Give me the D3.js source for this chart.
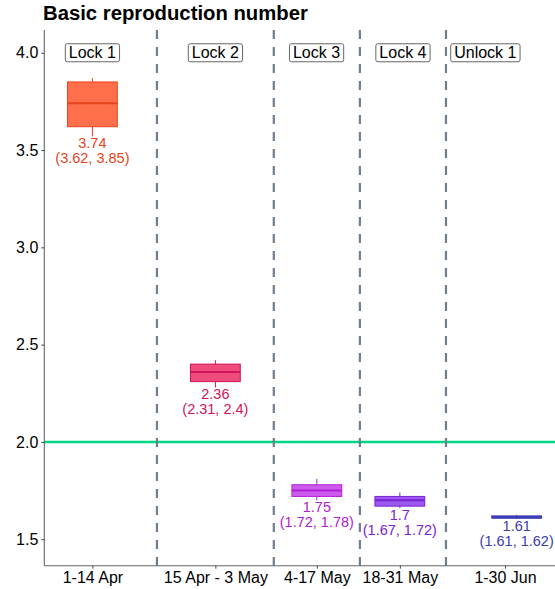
<!DOCTYPE html>
<html><head><meta charset="utf-8">
<script src="https://cdn.jsdelivr.net/npm/d3@7"></script>
<style>body{margin:0;background:#fff}svg{display:block}text{font-family:"Liberation Sans",Arial,sans-serif}</style>
</head><body>
<script>
// ---- data ----
const periods = ["1-14 Apr", "15 Apr - 3 May", "4-17 May", "18-31 May", "1-30 Jun"];
const periodTicks = [4, 24, 40.5, 54, 71.1];          // day positions of x ticks
const boxCenters = [4, 24, 40.5, 54, 73];             // day positions of boxes
const phases = ["Lock 1", "Lock 2", "Lock 3", "Lock 4", "Unlock 1"];
const phaseCenters = [4, 24, 40.45, 54.5, 67.9];
const phaseBreaks = [14.5, 33.5, 47.5, 61.5];
const medians = [3.74, 2.36, 1.75, 1.70, 1.61];
const lower = [3.62, 2.31, 1.72, 1.67, 1.61];
const upper = [3.85, 2.40, 1.78, 1.72, 1.62];
const whiskerLow = [3.57, 2.28, 1.70, 1.66, 1.605];
const whiskerHigh = [3.87, 2.42, 1.81, 1.74, 1.625];
const threshold = 2.0;
const yTicks = [1.5, 2.0, 2.5, 3.0, 3.5, 4.0];
const strokeColors = ["#E8431C", "#D0145A", "#B020D4", "#7A22D4", "#3C3CB4"];
const fillColors = ["#FF6F4B", "#EF4C7D", "#CD5BEE", "#9B58EE", "#4444BB"];

const W = 555, H = 589;
const svg = d3.select("body").append("svg").attr("width", W).attr("height", H);
const x = d3.scaleLinear().domain([-3.82, 79.23]).range([44.3, 555]);
const y = d3.scaleLinear().domain([1.364, 4.117]).range([565.7, 30]);
const fmt = v => String(+v.toFixed(2));

// title
svg.append("text").attr("x", 43).attr("y", 20).attr("font-size", 20.3).attr("font-weight", "bold")
  .attr("fill", "#000").text("Basic reproduction number");

// threshold line
svg.append("line").attr("x1", x.range()[0]).attr("x2", W).attr("y1", y(threshold)).attr("y2", y(threshold))
  .attr("stroke", "#00D782").attr("stroke-width", 2.5);

// dashed breaks
svg.selectAll("line.brk").data(phaseBreaks).join("line").attr("class", "brk")
  .attr("x1", d => x(d)).attr("x2", d => x(d)).attr("y1", y.range()[1]).attr("y2", y.range()[0])
  .attr("stroke", "#6E7E8E").attr("stroke-width", 2.2).attr("stroke-dasharray", "9,8");

// boxes
const bw = 8.1;
const g = svg.append("g");
medians.forEach((m, i) => {
  const cx = x(boxCenters[i]);
  const half = (x(bw) - x(0)) / 2;
  g.append("line").attr("x1", cx).attr("x2", cx).attr("y1", y(whiskerHigh[i])).attr("y2", y(whiskerLow[i]))
    .attr("stroke", strokeColors[i]).attr("stroke-width", 1);
  g.append("rect").attr("x", cx - half).attr("width", 2 * half)
    .attr("y", y(upper[i])).attr("height", Math.max(1, y(lower[i]) - y(upper[i])))
    .attr("fill", fillColors[i]).attr("stroke", strokeColors[i]).attr("stroke-width", 1);
  g.append("line").attr("x1", cx - half).attr("x2", cx + half).attr("y1", y(m)).attr("y2", y(m))
    .attr("stroke", strokeColors[i]).attr("stroke-width", 2);
  const b = y(whiskerLow[i]) + 12;
  const t = g.append("text").attr("x", cx).attr("y", b).attr("text-anchor", "middle").attr("font-size", 14.5)
    .attr("fill", strokeColors[i]);
  t.append("tspan").attr("x", cx).attr("y", b).text(fmt(m));
  t.append("tspan").attr("x", cx).attr("y", b + 15).text("(" + fmt(lower[i]) + ", " + fmt(upper[i]) + ")");
});

// phase labels
phases.forEach((p, i) => {
  const cx = x(phaseCenters[i]), cy = y(4.0);
  const t = svg.append("text").attr("x", cx).attr("y", cy + 5.7).attr("text-anchor", "middle")
    .attr("font-size", 16).attr("fill", "#000").text(p);
  const bb = t.node().getBBox();
  svg.insert("rect", () => t.node()).attr("x", bb.x - 3.5).attr("y", cy - 9).attr("width", bb.width + 7).attr("height", 18)
    .attr("rx", 2).attr("fill", "#fff").attr("stroke", "#555").attr("stroke-width", 0.9);
});

// axes
const yAxis = svg.append("g").attr("transform", `translate(${x.range()[0]},0)`)
  .call(d3.axisLeft(y).tickValues(yTicks).tickFormat(d3.format(".1f")).tickSize(3).tickPadding(3));
const xAxis = svg.append("g").attr("transform", `translate(0,${y.range()[0]})`)
  .call(d3.axisBottom(x).tickValues(periodTicks).tickFormat((d, i) => periods[i]).tickSize(3).tickPadding(3));
[yAxis, xAxis].forEach(a => {
  a.select(".domain").attr("stroke", "#666").attr("stroke-width", 1.1);
  a.selectAll(".tick line").attr("stroke", "#444");
  a.selectAll(".tick text").attr("font-size", 16).attr("fill", "#000").attr("font-family", "Liberation Sans, Arial, sans-serif");
});
yAxis.select(".domain").attr("d", `M0,${y.range()[1]}V${y.range()[0]}`);
xAxis.select(".domain").attr("d", `M${x.range()[0]},0H${W}`);
</script>
</body></html>
